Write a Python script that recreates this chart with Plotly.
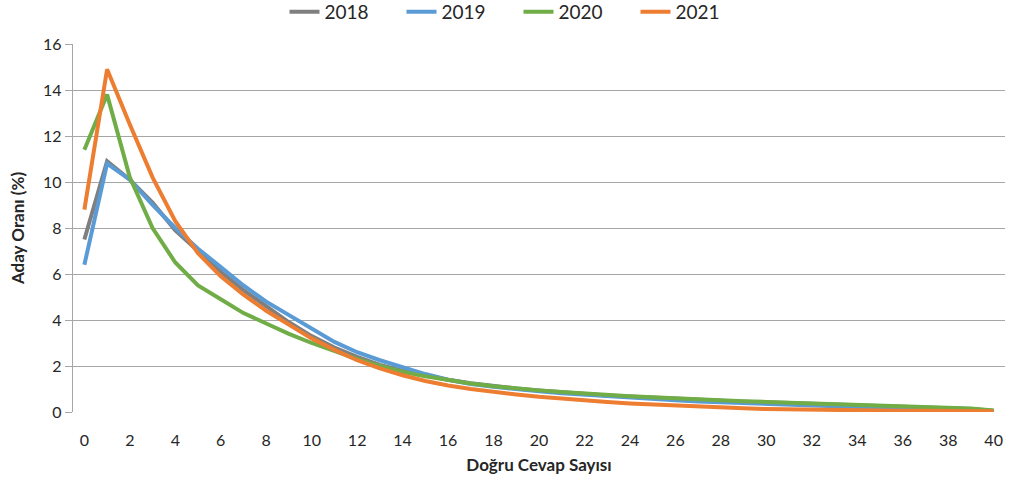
import plotly.graph_objects as go

x_vals = list(range(0, 41))

y_2018 = [7.5, 10.9, 10.1, 9.1, 7.9, 7.0, 6.1, 5.3, 4.6, 3.9, 3.3, 2.8, 2.4, 2.05, 1.8, 1.6, 1.4, 1.25, 1.12, 1.02,
          0.93, 0.85, 0.78, 0.72, 0.67, 0.62, 0.57, 0.53, 0.49, 0.45, 0.42, 0.39, 0.36, 0.33, 0.31, 0.28, 0.25, 0.22,
          0.18, 0.13, 0.06]
y_2019 = [6.4, 10.8, 10.1, 9.0, 8.0, 7.1, 6.3, 5.5, 4.8, 4.2, 3.6, 3.05, 2.6, 2.25, 1.95, 1.65, 1.4, 1.22, 1.1, 0.99,
          0.9, 0.82, 0.75, 0.68, 0.62, 0.56, 0.51, 0.46, 0.42, 0.38, 0.34, 0.31, 0.28, 0.25, 0.22, 0.2, 0.17, 0.14,
          0.11, 0.08, 0.04]
y_2020 = [11.4, 13.8, 10.2, 8.0, 6.5, 5.5, 4.9, 4.3, 3.85, 3.4, 3.0, 2.65, 2.3, 2.0, 1.75, 1.55, 1.38, 1.24, 1.12,
          1.02, 0.94, 0.87, 0.8, 0.74, 0.69, 0.64, 0.59, 0.55, 0.51, 0.47, 0.44, 0.41, 0.38, 0.35, 0.32, 0.3, 0.27,
          0.24, 0.2, 0.15, 0.07]
y_2021 = [8.8, 14.9, 12.5, 10.2, 8.3, 6.9, 5.9, 5.1, 4.4, 3.8, 3.2, 2.7, 2.25, 1.9, 1.6, 1.35, 1.15, 1.0, 0.87, 0.76,
          0.66, 0.57, 0.5, 0.43, 0.37, 0.32, 0.27, 0.23, 0.19, 0.16, 0.13, 0.11, 0.09, 0.08, 0.07, 0.06, 0.05, 0.05,
          0.04, 0.04, 0.03]

series_names = ["2018", "2019", "2020", "2021"]
series_values = [y_2018, y_2019, y_2020, y_2021]
series_colors = ["#7f7f7f", "#5b9bd5", "#70ad47", "#ed7d31"]

x_ticks = list(range(0, 41, 2))
y_ticks = list(range(0, 17, 2))

fig = go.Figure()
for name, vals, col in zip(series_names, series_values, series_colors):
    fig.add_trace(go.Scatter(x=x_vals, y=vals, mode="lines", name=name,
                             line=dict(color=col, width=4)))

font_family = "Lato, 'Open Sans', sans-serif"
grid_col = "#a6a6a6"
text_col = "#262626"

fig.update_layout(
    width=1010, height=489,
    paper_bgcolor="white", plot_bgcolor="white",
    margin=dict(l=73, r=5, t=44, b=77, autoexpand=False),
    font=dict(family=font_family, size=16, color=text_col),
    legend=dict(orientation="h", x=0.478, xanchor="center", xref="paper",
                y=0.9755, yanchor="middle", yref="container",
                font=dict(size=19, color=text_col),
                entrywidth=72, bgcolor="rgba(0,0,0,0)"),
    showlegend=True,
)

fig.update_xaxes(
    range=[-0.5, 40.5], tickvals=x_ticks, ticktext=[str(v) for v in x_ticks],
    showgrid=False, zeroline=False, showline=False,
    ticks="outside", ticklen=14, tickcolor="rgba(0,0,0,0)",
    tickfont=dict(size=16, color=text_col), automargin=False,
    title=dict(text="<b>Doğru Cevap Sayısı</b>", font=dict(size=17, color=text_col), standoff=10),
)
fig.update_yaxes(
    range=[0, 16], tickvals=y_ticks, ticktext=[str(v) for v in y_ticks],
    showgrid=True, gridcolor=grid_col, gridwidth=1.3, zeroline=False,
    showline=True, linecolor=grid_col, linewidth=1.3,
    ticks="outside", ticklen=7, tickcolor=grid_col, tickwidth=1.3,
    tickfont=dict(size=16, color=text_col), automargin=False,
    title=dict(text="<b>Aday Oranı (%)</b>", font=dict(size=17, color=text_col), standoff=14),
)

fig.write_html("out.html",
               config={"displayModeBar": False},
               post_script="document.body.style.margin='0';document.body.style.overflow='hidden';")
